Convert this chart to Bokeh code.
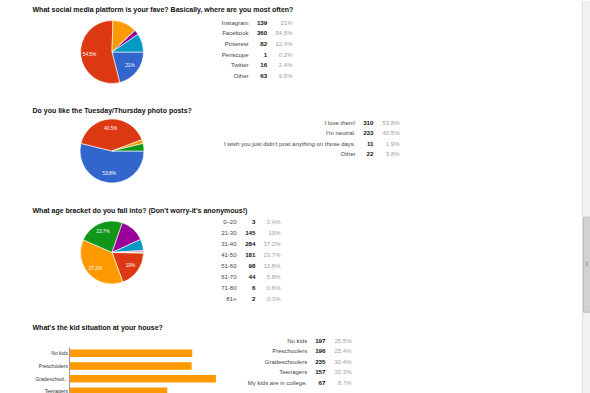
import math
from bokeh.plotting import figure
from bokeh.models import Range1d, ColumnDataSource
from bokeh.embed import file_html
from bokeh.resources import INLINE
from bokeh.core.properties import value

W, H = 590, 393
FONT = value("Liberation Sans")

# ---------------- data ----------------
q1_title = "What social media platform is your fave? Basically, where are you most often?"
q1_labels = ["Instagram", "Facebook", "Pinterest", "Periscope", "Twitter", "Other"]
q1_counts = [139, 360, 82, 1, 16, 63]
q1_pcts = ["21%", "54.5%", "12.4%", "0.2%", "2.4%", "9.5%"]

q2_title = "Do you like the Tuesday/Thursday photo posts?"
q2_labels = ["I love them!", "I'm neutral.", "I wish you just didn't post anything on those days.", "Other"]
q2_counts = [310, 233, 11, 22]
q2_pcts = ["53.8%", "40.5%", "1.9%", "3.8%"]

q3_title = "What age bracket do you fall into? (Don't worry-it's anonymous!)"
q3_labels = ["0\u201320", "21-30", "31-40", "41-50", "51-60", "61-70", "71-80", "81+"]
q3_counts = [3, 145, 284, 181, 98, 44, 6, 2]
q3_pcts = ["0.4%", "19%", "37.2%", "23.7%", "12.8%", "5.8%", "0.8%", "0.3%"]

q4_title = "What's the kid situation at your house?"
q4_labels = ["No kids", "Preschoolers", "Gradeschoolers", "Teenagers", "My kids are in college."]
q4_bar_labels = ["No kids", "Preschoolers", "Gradeschool...", "Teenagers", "My kids are i..."]
q4_counts = [197, 196, 235, 157, 67]
q4_pcts = ["25.5%", "25.4%", "30.4%", "20.3%", "8.7%"]

PALETTE = ["#3366cc", "#dc3912", "#ff9900", "#109618", "#990099", "#0099c6", "#dd4477", "#66aa00"]

# ---------------- figure ----------------
p = figure(width=W, height=H, x_range=Range1d(0, W), y_range=Range1d(0, H),
           x_axis_type=None, y_axis_type=None, toolbar_location=None,
           output_backend="svg", min_border=0, outline_line_color=None)
p.xgrid.visible = False
p.ygrid.visible = False
p.background_fill_color = "white"
p.border_fill_color = "white"


def Y(y):
    return H - y


def title(x, y, text):
    p.text(x=[x], y=[Y(y)], text=[text], text_font=FONT, text_font_size="7px",
           text_font_style="bold", text_color="#111111", text_baseline="middle",
           text_align="left")


def pie(cx, cy, r, counts, pcts, min_label=0.15):
    total = float(sum(counts))
    theta = 90.0
    xs, ys, starts, ends, cols = [], [], [], [], []
    lx, ly, lt = [], [], []
    for i, c in enumerate(counts):
        frac = c / total
        a0, a1 = theta, theta + frac * 360.0
        starts.append(math.radians(90 - a0))
        ends.append(math.radians(90 - a1))
        xs.append(cx)
        ys.append(Y(cy))
        cols.append(PALETTE[i % len(PALETTE)])
        if frac >= min_label:
            mid = math.radians((a0 + a1) / 2)
            lr = 0.72 * r
            lx.append(cx + lr * math.sin(mid))
            ly.append(Y(cy - lr * math.cos(mid)))
            lt.append(pcts[i])
        theta = a1
    src = ColumnDataSource(dict(x=xs, y=ys, s=starts, e=ends, c=cols))
    p.wedge(x="x", y="y", radius=r, start_angle="s", end_angle="e", direction="clock",
            fill_color="c", line_color="white", line_width=0.6, source=src)
    p.text(x=lx, y=ly, text=lt, text_font=FONT, text_font_size="4.7px",
           text_color="white", text_align="center", text_baseline="middle")


def table(xl, xc, xp, y0, step, labels, counts, pcts):
    ys = [Y(y0 + i * step) for i in range(len(labels))]
    p.text(x=[xl] * len(labels), y=ys, text=labels, text_font=FONT, text_font_size="6px",
           text_color="#444444", text_align="right", text_baseline="middle")
    p.text(x=[xc] * len(labels), y=ys, text=[str(c) for c in counts], text_font=FONT,
           text_font_size="6.2px", text_font_style="bold", text_color="#111111",
           text_align="right", text_baseline="middle")
    p.text(x=[xp] * len(labels), y=ys, text=pcts, text_font=FONT, text_font_size="6px",
           text_color="#a0a0a0", text_align="right", text_baseline="middle")


# Question 1
title(32, 9, q1_title)
pie(111.5, 51.5, 31.5, q1_counts, q1_pcts)
table(248, 266.7, 292, 22, 10.7, q1_labels, q1_counts, q1_pcts)

# Question 2
title(32, 109.5, q2_title)
pie(111.5, 150.5, 32, q2_counts, q2_pcts)
table(355, 373, 399, 122, 10.6, q2_labels, q2_counts, q2_pcts)

# Question 3
title(32, 210, q3_title)
pie(111.5, 252, 31.5, q3_counts, q3_pcts)
table(236, 255, 280, 221.7, 11.04, q3_labels, q3_counts, q3_pcts)

# Question 4 (bar chart)
title(32, 327, q4_title)
axis_x = 69.0
scale = 0.623
bar_y0, bar_step, bar_h = 352.8, 12.7, 7.6
bys = [Y(bar_y0 + i * bar_step) for i in range(len(q4_counts))]
p.hbar(y=bys, left=axis_x, right=[axis_x + c * scale for c in q4_counts], height=bar_h,
       fill_color="#ff9900", line_color=None)
p.segment(x0=[axis_x], y0=[Y(347)], x1=[axis_x], y1=[Y(H + 20)], line_color="#9a9a9a", line_width=1)
p.text(x=[axis_x - 1.5] * len(bys), y=bys, text=q4_bar_labels, text_font=FONT,
       text_font_size="5px", text_color="#333333", text_align="right", text_baseline="middle")
table(306.7, 325, 351, 340, 10.6, q4_labels, q4_counts, q4_pcts)

# Browser scrollbar (page decoration)
p.quad(left=[582], right=[590], bottom=[0], top=[H], fill_color="#f1f1f1", line_color=None)
p.segment(x0=[582], y0=[0], x1=[582], y1=[H], line_color="#e2e2e2", line_width=1)
p.quad(left=[583], right=[590], bottom=[Y(311.7)], top=[Y(216.7)], fill_color="#d2d2d2",
       line_color="#bdbdbd", line_width=1)
p.segment(x0=[585, 585, 585], y0=[Y(262), Y(263.5), Y(265)], x1=[588, 588, 588],
          y1=[Y(262), Y(263.5), Y(265)], line_color="#9a9a9a", line_width=0.8)

open("out.html", "w").write(file_html(p, INLINE))
